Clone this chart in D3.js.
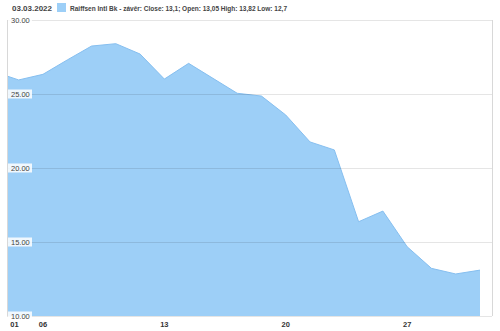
<!DOCTYPE html>
<html>
<head>
<meta charset="utf-8">
<script src="https://cdn.jsdelivr.net/npm/d3@7"></script>
<style>
  body { margin: 0; background: #fff; }
  svg { display: block; font-family: "Liberation Sans", Arial, sans-serif; }
</style>
</head>
<body>
<div id="chart"></div>
<script>
// day labels per trading point (first one is the day before, clipped at the edge)
const days = ["31", "01", "06", "07", "08", "09", "10", "13", "14", "15", "16",
              "17", "20", "21", "22", "23", "24", "27", "28", "01", "02"];
const closes = [26.5, 25.95, 26.33, 27.3, 28.24, 28.4, 27.7, 26.01, 27.07, 26.06, 25.05,
                24.86, 23.58, 21.76, 21.22, 16.37, 17.09, 14.68, 13.22, 12.84, 13.1];
const tickIdx = [1, 2, 7, 12, 17];
const yTicks = [10, 15, 20, 25, 30];
const headerDate = "03.03.2022";
const legendText = "Raiffsen Intl Bk - závěr: Close: 13,1; Open: 13,05 High: 13,82 Low: 12,7";

const width = 500, height = 331;
const plotLeft = 7, plotRight = 492, plotTop = 20, plotBottom = 316;

const svg = d3.select("#chart").append("svg")
  .attr("width", width)
  .attr("height", height);

const x = d3.scaleLinear()
  .domain([0, closes.length - 1])
  .range([-5.6, 480]);

const y = d3.scaleLinear()
  .domain([10, 30])
  .range([plotBottom, plotTop]);

svg.append("clipPath").attr("id", "plot")
  .append("rect")
  .attr("x", plotLeft).attr("y", plotTop - 2)
  .attr("width", plotRight - plotLeft).attr("height", plotBottom - plotTop + 2);

// area
const area = d3.area()
  .x((d, i) => x(i))
  .y0(y(10))
  .y1(d => y(d));

const line = d3.line()
  .x((d, i) => x(i))
  .y(d => y(d));

const g = svg.append("g").attr("clip-path", "url(#plot)");

g.append("path")
  .datum(closes)
  .attr("d", area)
  .attr("fill", "#9dcff7");

g.append("path")
  .datum(closes)
  .attr("d", line)
  .attr("fill", "none")
  .attr("stroke", "#86bff0")
  .attr("stroke-width", 1);

// gridlines
svg.selectAll(".grid")
  .data(yTicks)
  .enter()
  .append("line")
  .attr("x1", plotLeft)
  .attr("x2", plotRight)
  .attr("y1", d => Math.round(y(d)) + 0.5)
  .attr("y2", d => Math.round(y(d)) + 0.5)
  .attr("stroke", "#000")
  .attr("stroke-opacity", 0.1);

// left and right borders
svg.append("line")
  .attr("x1", plotLeft + 0.5).attr("x2", plotLeft + 0.5)
  .attr("y1", plotTop).attr("y2", plotBottom)
  .attr("stroke", "#d8d8d8");
svg.append("line")
  .attr("x1", plotRight + 0.5).attr("x2", plotRight + 0.5)
  .attr("y1", plotTop).attr("y2", plotBottom)
  .attr("stroke", "#d8d8d8");

// y labels with white boxes
const yl = svg.selectAll(".ylab")
  .data(yTicks)
  .enter()
  .append("g")
  .attr("transform", d => `translate(${plotLeft + 1},${Math.round(y(d))})`);

yl.append("rect")
  .attr("x", 0).attr("y", -4.5)
  .attr("width", 24).attr("height", 9)
  .attr("fill", "#fff")
  .attr("fill-opacity", 0.85);

yl.append("text")
  .attr("x", 3)
  .attr("y", 3)
  .attr("font-size", 7.5)
  .attr("fill", "#444")
  .text(d => d.toFixed(2));

// x labels
svg.selectAll(".xlab")
  .data(tickIdx)
  .enter()
  .append("text")
  .attr("x", i => i === 1 ? 14.5 : x(i))
  .attr("y", 327)
  .attr("text-anchor", "middle")
  .attr("font-size", 7.5)
  .attr("font-weight", "bold")
  .attr("fill", "#333")
  .text(i => days[i]);

// header
svg.append("text")
  .attr("x", 12).attr("y", 11)
  .attr("font-size", 7.5)
  .attr("font-weight", "bold")
  .attr("fill", "#444")
  .attr("textLength", 40)
  .attr("lengthAdjust", "spacingAndGlyphs")
  .text(headerDate);

svg.append("rect")
  .attr("x", 57).attr("y", 3)
  .attr("width", 9).attr("height", 9)
  .attr("fill", "#9dcff7");

svg.append("text")
  .attr("x", 70).attr("y", 10.5)
  .attr("font-size", 7)
  .attr("font-weight", "bold")
  .attr("fill", "#444")
  .attr("textLength", 217)
  .attr("lengthAdjust", "spacingAndGlyphs")
  .text(legendText);
</script>
</body>
</html>
